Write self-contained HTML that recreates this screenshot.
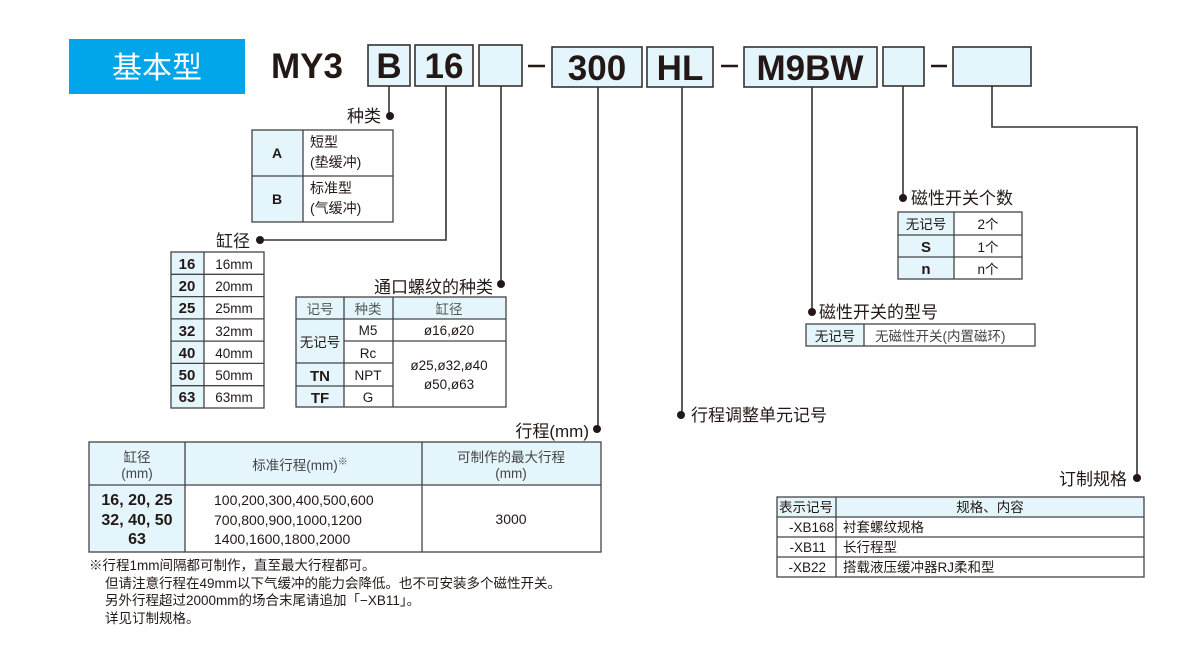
<!DOCTYPE html>
<html><head><meta charset="utf-8"><style>
html,body{margin:0;padding:0;background:#fff;}
svg{display:block;font-family:"Liberation Sans","Noto Sans CJK SC",sans-serif;}
.b{font-weight:bold}
</style></head><body>
<svg width="1200" height="650" viewBox="0 0 1200 650" xmlns="http://www.w3.org/2000/svg">
<rect x="69" y="39" width="176" height="55" fill="#00a6e9"/>
<text x="157" y="78" font-size="30" fill="#fff" text-anchor="middle">基本型</text>
<text x="271" y="78" font-size="35" class="b" fill="#231815">MY3</text>
<g fill="#e4f5fc" stroke="#333" stroke-width="1.6">
<rect x="368" y="45" width="42" height="41"/>
<rect x="415" y="45" width="58" height="41"/>
<rect x="479" y="45" width="43" height="41"/>
<rect x="552" y="47" width="90" height="40"/>
<rect x="647" y="47" width="66" height="40"/>
<rect x="744" y="47" width="133" height="40"/>
<rect x="883" y="47" width="41" height="39"/>
<rect x="953" y="47" width="78" height="39"/>
</g>
<g font-size="35" class="b" fill="#231815" text-anchor="middle">
<text x="389" y="78">B</text><text x="444" y="78">16</text>
<text x="597" y="80">300</text><text x="680" y="80">HL</text><text x="810" y="80">M9BW</text>
</g>
<g stroke="#231815" stroke-width="2.5"><line x1="528" y1="66" x2="545" y2="66"/><line x1="721" y1="66" x2="738" y2="66"/><line x1="931" y1="66" x2="947" y2="66"/></g>
<g stroke="#333" stroke-width="1.6" fill="none">
<polyline points="389,86 389,116"/>
<polyline points="446,86 446,240 260,240"/>
<polyline points="501,86 501,284"/>
<polyline points="598,87 598,429"/>
<polyline points="682,87 682,415"/>
<polyline points="812,87 812,312"/>
<polyline points="903,86 903,198"/>
<polyline points="992,86 992,127 1137,127 1137,478"/>
</g>
<g fill="#231815">
<circle cx="390" cy="116" r="4"/><circle cx="260" cy="240" r="4"/><circle cx="501" cy="284" r="4"/>
<circle cx="597" cy="429" r="4"/><circle cx="681" cy="415" r="4"/><circle cx="812" cy="312" r="4"/>
<circle cx="903" cy="198" r="4"/><circle cx="1137" cy="478" r="4"/>
</g>
<g font-size="17" fill="#231815">
<text x="381" y="122" text-anchor="end">种类</text>
<text x="250" y="247" text-anchor="end">缸径</text>
<text x="493" y="293" text-anchor="end">通口螺纹的种类</text>
<text x="589" y="437" text-anchor="end">行程(mm)</text>
<text x="691" y="421">行程调整单元记号</text>
<text x="819" y="318">磁性开关的型号</text>
<text x="911" y="204">磁性开关个数</text>
<text x="1127" y="485" text-anchor="end">订制规格</text>
</g>
<!-- 种类 table -->
<rect x="252" y="130" width="51" height="92" fill="#e4f5fc"/>
<g stroke="#444" stroke-width="1.3" fill="none">
<rect x="252" y="130" width="141" height="92"/><line x1="303" y1="130" x2="303" y2="222"/><line x1="252" y1="176" x2="393" y2="176"/>
</g>
<g font-size="14" fill="#231815"><text x="277" y="158" class="b" text-anchor="middle">A</text><text x="277" y="204" class="b" text-anchor="middle">B</text>
<text x="310" y="147">短型</text><text x="310" y="167">(垫缓冲)</text><text x="310" y="193">标准型</text><text x="310" y="213">(气缓冲)</text></g>
<!-- 缸径 table -->
<rect x="171" y="252" width="33" height="156" fill="#e4f5fc"/>
<g stroke="#444" stroke-width="1.3" fill="none">
<rect x="171" y="252" width="93" height="156"/><line x1="204" y1="252" x2="204" y2="408"/>
<line x1="171" y1="274.3" x2="264" y2="274.3"/><line x1="171" y1="296.6" x2="264" y2="296.6"/><line x1="171" y1="318.9" x2="264" y2="318.9"/>
<line x1="171" y1="341.1" x2="264" y2="341.1"/><line x1="171" y1="363.4" x2="264" y2="363.4"/><line x1="171" y1="385.7" x2="264" y2="385.7"/>
</g>
<g font-size="15" fill="#231815">
<g class="b" text-anchor="middle"><text x="187" y="269">16</text><text x="187" y="291">20</text><text x="187" y="313">25</text><text x="187" y="336">32</text><text x="187" y="358">40</text><text x="187" y="380">50</text><text x="187" y="402">63</text></g>
<g font-size="13.5" text-anchor="middle"><text x="234" y="269">16mm</text><text x="234" y="291">20mm</text><text x="234" y="313">25mm</text><text x="234" y="336">32mm</text><text x="234" y="358">40mm</text><text x="234" y="380">50mm</text><text x="234" y="402">63mm</text></g>
</g>
<!-- port table -->
<rect x="296" y="297" width="210" height="22" fill="#e4f5fc"/><rect x="296" y="319" width="48" height="88" fill="#e4f5fc"/>
<g stroke="#444" stroke-width="1.3" fill="none">
<rect x="296" y="297" width="210" height="110"/><line x1="344" y1="297" x2="344" y2="407"/><line x1="393" y1="297" x2="393" y2="407"/>
<line x1="296" y1="319" x2="506" y2="319"/><line x1="344" y1="341" x2="506" y2="341"/><line x1="296" y1="363" x2="393" y2="363"/><line x1="296" y1="386" x2="393" y2="386"/>
</g>
<g font-size="13.5" fill="#231815" text-anchor="middle">
<text x="320" y="314" fill="#555">记号</text><text x="368" y="314" fill="#555">种类</text><text x="449" y="314" fill="#555">缸径</text>
<text x="320" y="347">无记号</text><text x="368" y="335">M5</text><text x="368" y="358">Rc</text>
<text x="320" y="381" class="b" font-size="15">TN</text><text x="368" y="380">NPT</text>
<text x="320" y="403" class="b" font-size="15">TF</text><text x="368" y="402">G</text>
<text x="449" y="335">ø16,ø20</text><text x="449" y="370">ø25,ø32,ø40</text><text x="449" y="389">ø50,ø63</text>
</g>
<!-- stroke table -->
<rect x="89" y="442" width="512" height="43" fill="#e4f5fc"/><rect x="89" y="485" width="96" height="67" fill="#e4f5fc"/>
<g stroke="#444" stroke-width="1.3" fill="none">
<rect x="89" y="442" width="512" height="110"/><line x1="185" y1="442" x2="185" y2="552"/><line x1="422" y1="442" x2="422" y2="552"/><line x1="89" y1="485" x2="601" y2="485"/>
</g>
<g font-size="13.5" fill="#231815" text-anchor="middle">
<text x="137" y="462" fill="#444">缸径</text><text x="137" y="478" fill="#444">(mm)</text>
<text x="300" y="470" fill="#444">标准行程(mm)<tspan font-size="10" dy="-5">※</tspan></text>
<text x="511" y="462" fill="#444">可制作的最大行程</text><text x="511" y="478" fill="#444">(mm)</text>
<g class="b" font-size="16"><text x="137" y="505">16, 20, 25</text><text x="137" y="525">32, 40, 50</text><text x="137" y="544">63</text></g>
<g text-anchor="start" font-size="14"><text x="214" y="505">100,200,300,400,500,600</text><text x="214" y="525">700,800,900,1000,1200</text><text x="214" y="544">1400,1600,1800,2000</text></g>
<text x="511" y="524" font-size="14">3000</text>
</g>
<g font-size="13.5" fill="#231815">
<text x="89" y="570">※行程1mm间隔都可制作，直至最大行程都可。</text>
<text x="105" y="588">但请注意行程在49mm以下气缓冲的能力会降低。也不可安装多个磁性开关。</text>
<text x="105" y="605">另外行程超过2000mm的场合末尾请追加「−XB11」。</text>
<text x="105" y="623">详见订制规格。</text>
</g>
<!-- count table -->
<rect x="898" y="212" width="56" height="67" fill="#e4f5fc"/>
<g stroke="#444" stroke-width="1.3" fill="none">
<rect x="898" y="212" width="124" height="67"/><line x1="954" y1="212" x2="954" y2="279"/><line x1="898" y1="235" x2="1022" y2="235"/><line x1="898" y1="257" x2="1022" y2="257"/>
</g>
<g font-size="13.5" fill="#231815" text-anchor="middle">
<text x="926" y="229">无记号</text><text x="926" y="252" class="b" font-size="15">S</text><text x="926" y="274" class="b" font-size="15">n</text>
<text x="988" y="229">2个</text><text x="988" y="252">1个</text><text x="988" y="274">n个</text>
</g>
<!-- switch model -->
<rect x="806" y="324" width="58" height="22" fill="#e4f5fc"/>
<g stroke="#444" stroke-width="1.3" fill="none"><rect x="806" y="324" width="229" height="22"/><line x1="864" y1="324" x2="864" y2="346"/></g>
<g font-size="13.5" fill="#231815"><text x="835" y="341" text-anchor="middle">无记号</text><text x="875" y="341" fill="#444">无磁性开关(内置磁环)</text></g>
<!-- order table -->
<rect x="777" y="497" width="367" height="20" fill="#e4f5fc"/>
<g stroke="#444" stroke-width="1.3" fill="none">
<rect x="777" y="497" width="367" height="80"/><line x1="836" y1="497" x2="836" y2="577"/>
<line x1="777" y1="517" x2="1144" y2="517"/><line x1="777" y1="537" x2="1144" y2="537"/><line x1="777" y1="557" x2="1144" y2="557"/>
</g>
<g font-size="13.5" fill="#231815">
<text x="806" y="512" text-anchor="middle">表示记号</text><text x="990" y="512" text-anchor="middle">规格、内容</text>
<text x="834" y="532" text-anchor="end">-XB168</text><text x="843" y="532">衬套螺纹规格</text>
<text x="826" y="552" text-anchor="end">-XB11</text><text x="843" y="552">长行程型</text>
<text x="826" y="572" text-anchor="end">-XB22</text><text x="843" y="572">搭载液压缓冲器RJ柔和型</text>
</g>
</svg>
</body></html>
